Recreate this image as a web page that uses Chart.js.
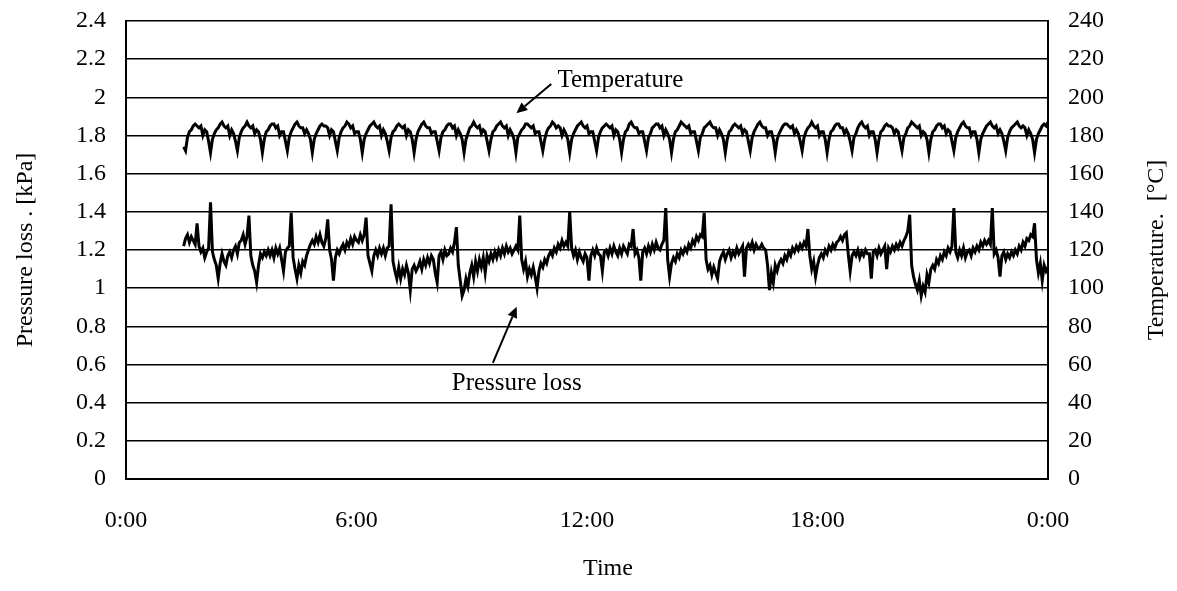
<!DOCTYPE html>
<html>
<head>
<meta charset="utf-8">
<script src="https://cdn.jsdelivr.net/npm/chart.js@4"></script>
<style>
  html, body { margin: 0; padding: 0; background: #fff; }
  #wrap { width: 1177px; height: 591px; position: relative; }
</style>
</head>
<body>
<div id="wrap"><canvas id="c" width="1177" height="591"></canvas></div>
<script>
// ---- data ----
const startHour = 1.5;   // first sample (hours)
const stepHour = 0.05;   // sampling interval (hours)

const xTickHours = [0, 6, 12, 18, 24];

const pressureValues = [
  1.22,1.26,1.28,1.24,1.27,1.25,1.23,1.34,1.22,1.19,
  1.21,1.16,1.19,1.21,1.45,1.19,1.15,1.12,1.05,1.13,
  1.18,1.14,1.12,1.17,1.19,1.16,1.20,1.22,1.18,1.24,
  1.25,1.28,1.23,1.27,1.38,1.17,1.12,1.09,1.03,1.12,
  1.18,1.16,1.19,1.17,1.20,1.17,1.20,1.16,1.21,1.18,
  1.21,1.15,1.09,1.19,1.21,1.22,1.395,1.16,1.10,1.05,
  1.12,1.08,1.14,1.12,1.17,1.20,1.23,1.25,1.23,1.27,
  1.24,1.28,1.24,1.22,1.26,1.36,1.20,1.15,1.04,1.16,
  1.20,1.18,1.21,1.23,1.20,1.24,1.22,1.26,1.23,1.27,
  1.25,1.24,1.28,1.25,1.28,1.37,1.17,1.13,1.09,1.17,
  1.20,1.17,1.21,1.18,1.21,1.17,1.21,1.22,1.44,1.14,
  1.09,1.05,1.11,1.05,1.10,1.07,1.12,1.08,0.99,1.10,
  1.12,1.09,1.11,1.14,1.10,1.15,1.12,1.16,1.13,1.17,
  1.15,1.08,1.03,1.17,1.19,1.15,1.20,1.17,1.18,1.21,
  1.19,1.24,1.32,1.12,1.04,0.96,0.99,1.05,1.01,1.08,
  1.12,1.06,1.14,1.09,1.15,1.11,1.16,1.08,1.17,1.14,
  1.18,1.15,1.19,1.16,1.20,1.17,1.21,1.18,1.22,1.19,
  1.21,1.18,1.20,1.22,1.20,1.38,1.15,1.10,1.14,1.06,
  1.10,1.07,1.11,1.06,1.00,1.09,1.13,1.11,1.15,1.13,
  1.17,1.19,1.17,1.21,1.19,1.23,1.21,1.25,1.22,1.24,
  1.22,1.40,1.21,1.17,1.20,1.15,1.19,1.16,1.14,1.18,
  1.16,1.04,1.17,1.20,1.17,1.21,1.18,1.17,1.09,1.19,
  1.20,1.17,1.21,1.18,1.22,1.19,1.17,1.21,1.18,1.22,
  1.20,1.18,1.23,1.22,1.31,1.18,1.20,1.16,1.04,1.19,
  1.21,1.18,1.22,1.19,1.23,1.20,1.24,1.21,1.20,1.23,
  1.25,1.42,1.15,1.06,1.13,1.16,1.14,1.18,1.16,1.20,
  1.18,1.21,1.19,1.23,1.21,1.25,1.23,1.27,1.25,1.28,
  1.27,1.395,1.15,1.10,1.12,1.07,1.11,1.08,1.05,1.14,
  1.17,1.19,1.15,1.18,1.20,1.16,1.19,1.17,1.21,1.18,
  1.20,1.22,1.06,1.21,1.23,1.21,1.24,1.20,1.23,1.21,
  1.21,1.23,1.21,1.20,1.12,0.99,1.08,1.03,1.12,1.09,
  1.13,1.15,1.13,1.17,1.15,1.19,1.17,1.21,1.19,1.22,
  1.20,1.23,1.21,1.24,1.22,1.31,1.17,1.10,1.14,1.06,
  1.12,1.16,1.18,1.16,1.20,1.18,1.22,1.20,1.23,1.21,
  1.24,1.25,1.27,1.25,1.28,1.29,1.18,1.09,1.17,1.19,
  1.17,1.20,1.16,1.19,1.17,1.20,1.18,1.18,1.05,1.19,
  1.20,1.17,1.21,1.18,1.20,1.22,1.10,1.21,1.19,1.22,
  1.20,1.23,1.21,1.24,1.22,1.25,1.27,1.30,1.385,1.12,
  1.06,1.02,0.99,1.04,0.96,1.01,0.98,1.07,1.03,1.10,
  1.12,1.10,1.15,1.13,1.17,1.15,1.19,1.17,1.21,1.19,
  1.22,1.42,1.19,1.16,1.20,1.17,1.21,1.16,1.19,1.20,
  1.17,1.21,1.19,1.22,1.20,1.24,1.22,1.25,1.23,1.25,
  1.23,1.42,1.18,1.20,1.16,1.06,1.17,1.19,1.15,1.18,
  1.16,1.19,1.17,1.20,1.18,1.22,1.20,1.24,1.22,1.26,
  1.25,1.28,1.27,1.34,1.15,1.08,1.13,1.04,1.12,1.09,1.11
];

const temperatureValues = [
  174,
  172,179,182,183,185,186,185,184,185,180,183,182,177,
  171,178,181,183,184,186,187,185,184,185,180,183,181,177,
  172,179,182,184,185,187,185,184,185,181,183,182,178,
  171,178,182,183,185,186,186,184,185,180,182,182,177,
  172,179,182,184,186,187,185,184,184,181,183,181,178,
  171,178,181,183,185,186,185,185,184,180,183,182,177,
  172,179,182,184,185,187,186,184,185,181,182,182,178,
  171,178,181,183,185,186,187,185,184,185,180,183,181,177,
  172,179,182,183,185,186,185,184,185,180,183,182,178,
  171,178,182,184,186,187,185,184,184,181,182,182,177,
  172,179,182,183,185,186,186,184,185,180,183,181,178,
  171,178,181,184,185,187,185,184,185,181,183,182,177,
  172,178,182,183,185,186,187,185,184,185,180,183,181,178,
  171,179,181,183,184,186,186,185,184,185,181,182,182,177,
  172,178,182,184,185,187,186,184,185,184,180,183,181,178,
  171,178,181,183,185,186,187,185,184,185,181,182,182,177,
  172,179,182,184,185,186,185,184,185,180,183,182,178,
  171,178,182,183,186,187,185,184,184,181,182,182,177,
  172,179,181,184,185,186,186,184,185,180,183,181,178,
  171,178,182,183,185,187,186,185,184,185,181,182,182,177,
  172,179,181,184,185,186,187,185,184,184,180,183,181,178,
  171,178,182,183,185,186,185,184,185,181,183,182,177,
  172,179,182,184,186,187,185,184,184,180,182,182,178,
  171,178,181,183,185,186,186,185,184,185,181,183,181,177,
  172,179,182,184,185,187,185,184,185,180,182,182,178,
  171,178,182,183,185,186,186,184,184,181,183,181,177,
  172,179,181,184,186,187,185,184,185,180,182,182,178,
  171,178,182,183,185,186,185,185,184,181,183,182,177,
  172,179,181,184,185,187,186,185,184,185,180,182,181,178,
  171,178,182,183,185,186,186,184,185,181,183,182,177,
  172,179,182,184,186,187,185,184,184,180,182,182,178,
  171,178,181,183,185,186,187,185,184,185,181,183,181,177,
  172,179,182,184,185,186,187,185,184,185,184,180,183,181,178,
  171,178,181,183,185,186,185,187
];

// annotations (data units: hours, left-axis value)
const tempLabel = { text: 'Temperature', x: 11.23, y: 2.056, from: [11.07, 2.07], to: [10.16, 1.916] };
const pressLabel = { text: 'Pressure loss', x: 10.17, y: 0.466, from: [9.55, 0.609], to: [10.17, 0.903] };

const leftTitle = 'Pressure loss . [kPa]';
const rightTitle = 'Temperature.  [\u00B0C]';
const bottomTitle = 'Time';

// ---- build ----
const pressurePoints = pressureValues.map((v, i) => ({ x: startHour + i * stepHour, y: v }));
const temperaturePoints = temperatureValues.map((v, i) => ({ x: startHour + i * stepHour, y: v }));

const FONT = "'Liberation Serif', 'Times New Roman', serif";
const CLEAR = 'rgba(0,0,0,0)';

function arrow(ctx, x1, y1, x2, y2) {
  const ang = Math.atan2(y2 - y1, x2 - x1);
  const L = 11, W = 5;
  const bx = x2 - L * Math.cos(ang), by = y2 - L * Math.sin(ang);
  ctx.beginPath();
  ctx.moveTo(x1, y1);
  ctx.lineTo(bx, by);
  ctx.lineWidth = 2;
  ctx.strokeStyle = '#000';
  ctx.stroke();
  ctx.beginPath();
  ctx.moveTo(x2, y2);
  ctx.lineTo(bx + W * Math.sin(ang), by - W * Math.cos(ang));
  ctx.lineTo(bx - W * Math.sin(ang), by + W * Math.cos(ang));
  ctx.closePath();
  ctx.fillStyle = '#000';
  ctx.fill();
}

const decor = {
  id: 'decor',
  afterDraw(chart) {
    const ctx = chart.ctx;
    const xs = chart.scales.x, ys = chart.scales.y;
    ctx.save();
    ctx.fillStyle = '#000';
    ctx.font = '25px ' + FONT;
    ctx.textAlign = 'left';
    ctx.textBaseline = 'alphabetic';
    ctx.fillText(tempLabel.text, xs.getPixelForValue(tempLabel.x), ys.getPixelForValue(tempLabel.y));
    arrow(ctx, xs.getPixelForValue(tempLabel.from[0]), ys.getPixelForValue(tempLabel.from[1]),
               xs.getPixelForValue(tempLabel.to[0]), ys.getPixelForValue(tempLabel.to[1]));
    ctx.textAlign = 'center';
    ctx.fillText(pressLabel.text, xs.getPixelForValue(pressLabel.x), ys.getPixelForValue(pressLabel.y));
    arrow(ctx, xs.getPixelForValue(pressLabel.from[0]), ys.getPixelForValue(pressLabel.from[1]),
               xs.getPixelForValue(pressLabel.to[0]), ys.getPixelForValue(pressLabel.to[1]));
    ctx.font = '24px ' + FONT;
    ctx.textAlign = 'center';
    ctx.textBaseline = 'middle';
    const midY = (chart.chartArea.top + chart.chartArea.bottom) / 2;
    ctx.fillText(bottomTitle, 608, 569);
    ctx.save();
    ctx.translate(26, midY);
    ctx.rotate(-Math.PI / 2);
    ctx.fillText(leftTitle, 0, 0);
    ctx.restore();
    ctx.save();
    ctx.translate(1157, midY);
    ctx.rotate(-Math.PI / 2);
    ctx.fillText(rightTitle, 0, 0);
    ctx.restore();
    ctx.restore();
  }
};

new Chart(document.getElementById('c'), {
  type: 'line',
  data: {
    datasets: [
      { label: 'Pressure loss', data: pressurePoints, yAxisID: 'y', borderColor: '#000', borderWidth: 3, pointRadius: 0, tension: 0 },
      { label: 'Temperature', data: temperaturePoints, yAxisID: 'y2', borderColor: '#000', borderWidth: 3, pointRadius: 0, tension: 0 }
    ]
  },
  options: {
    responsive: false,
    animation: false,
    events: [],
    layout: { padding: { top: 21, left: 0, right: 0, bottom: 0 } },
    plugins: { legend: { display: false }, tooltip: { enabled: false } },
    scales: {
      x: {
        type: 'linear', min: 0, max: 24,
        afterBuildTicks(s) { s.ticks = xTickHours.map(v => ({ value: v })); },
        afterFit(s) { s.height = 112; },
        grid: { display: false, drawTicks: false },
        border: { display: true, color: '#000', width: 2 },
        ticks: { padding: 27, color: '#000', maxRotation: 0, font: { family: FONT, size: 24 },
                 callback: v => (v % 24) + ':00' }
      },
      y: {
        position: 'left', min: 0, max: 2.4,
        afterFit(s) { s.width = 126; },
        grid: { color: '#000', lineWidth: 1.5, drawTicks: true, tickLength: 20, tickColor: CLEAR },
        border: { display: true, color: '#000', width: 2 },
        ticks: { stepSize: 0.2, padding: 0, color: '#000', font: { family: FONT, size: 24 },
                 callback: v => String(+v.toFixed(1)) }
      },
      y2: {
        position: 'right', min: 0, max: 240,
        afterFit(s) { s.width = 129; },
        grid: { display: true, drawOnChartArea: false, color: CLEAR, drawTicks: true, tickLength: 20, tickColor: CLEAR },
        border: { display: true, color: '#000', width: 2 },
        ticks: { stepSize: 20, padding: 0, color: '#000', font: { family: FONT, size: 24 } }
      }
    }
  },
  plugins: [decor]
});
</script>
</body>
</html>
